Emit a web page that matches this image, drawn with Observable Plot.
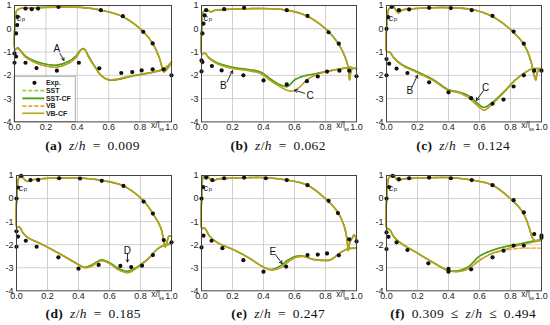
<!DOCTYPE html>
<html><head><meta charset="utf-8">
<script src="https://cdn.jsdelivr.net/npm/d3@7"></script>
<script src="https://cdn.jsdelivr.net/npm/@observablehq/plot@0.6"></script>
<style>
body{margin:0;background:#fff;}
#root{position:relative;width:550px;height:325px;overflow:hidden;font-family:"Liberation Sans",Arial,sans-serif;}
.panel{position:absolute;}
.cap{position:absolute;font-family:"Liberation Serif","DejaVu Serif",serif;font-size:13.5px;line-height:16px;letter-spacing:0.4px;word-spacing:3px;white-space:nowrap;transform:translateX(-50%);color:#111;}
</style></head><body><div id="root"></div>
<script>
// ---------- data ----------
const series = ["SST", "SST-CF", "VB", "VB-CF"];
const xTicks = [0, 0.2, 0.4, 0.6, 0.8, 1.0];
const yTicks = [1, 0, -1, -2, -3, -4];
const captions = [["(a)", "= 0.009"], ["(b)", "= 0.062"], ["(c)", "= 0.124"], ["(d)", "= 0.185"], ["(e)", "= 0.247"], ["(f)", "0.309 ≤ ", " ≤ 0.494"]];

// panel (a) z/h = 0.009
const aExpX = [0.01,0.017,0.02,0.07,0.11,0.15,0.28,0.55,0.69,0.82,0.88, 0.0,0.01,0.0,0.07,0.14,0.27,0.41,0.54,0.68,0.75,0.81,0.88,0.95,1.0];
const aExpCp = [-0.2,0.16,0.51,0.87,0.84,0.87,0.94,0.8,0.54,-0.13,-0.63, -1.06,-1.19,-1.46,-1.46,-1.69,-1.8,-1.46,-1.7,-1.9,-1.86,-1.79,-1.74,-1.74,-2.0];
const aUpper = [[0.004,-0.9],[0.005,0.4],[0.012,0.75],[0.03,0.86],[0.07,0.89],[0.15,0.91],[0.28,0.93],[0.42,0.92],[0.55,0.8],[0.69,0.52],[0.82,-0.12],[0.88,-0.63],[0.92,-1.2],[0.94,-1.65],[0.952,-1.85],[0.97,-1.75],[1.0,-1.45]];
const aLowerVB = [[0.004,-0.9],[0.02,-0.84],[0.04,-0.98],[0.07,-1.22],[0.12,-1.42],[0.2,-1.6],[0.27,-1.65],[0.34,-1.5],[0.39,-1.25],[0.42,-0.95],[0.435,-0.87],[0.45,-0.92],[0.47,-1.2],[0.52,-1.72],[0.56,-2.05],[0.6,-2.18],[0.64,-2.17],[0.76,-2.0],[0.89,-1.84],[0.95,-1.72],[1.0,-1.42]];
const aLowerSST = [[0.004,-0.9],[0.02,-0.82],[0.04,-0.95],[0.07,-1.17],[0.12,-1.36],[0.2,-1.52],[0.27,-1.56],[0.34,-1.42],[0.39,-1.18],[0.42,-0.92],[0.435,-0.85],[0.45,-0.9],[0.47,-1.15],[0.51,-1.6],[0.55,-2.0],[0.6,-2.2],[0.64,-2.2],[0.76,-2.02],[0.89,-1.86],[0.95,-1.74],[1.0,-1.45]];

// panel (b) z/h = 0.062
const bExpX = [0.006,0.013,0.02,0.03,0.146,0.275,0.55,0.684,0.82,0.886, 0.0,0.006,0.0,0.067,0.13,0.27,0.4,0.55,0.68,0.75,0.81,0.89,0.953,1.0];
const bExpCp = [-0.2,0.22,0.58,0.8,0.84,0.9,0.8,0.55,-0.15,-0.64, -1.36,-1.43,-1.83,-1.6,-1.79,-2.0,-2.22,-2.39,-2.25,-2.05,-1.84,-1.8,-1.8,-2.04];
const bUpper = [[0.003,-1.1],[0.004,0.3],[0.01,0.7],[0.03,0.82],[0.045,0.78],[0.06,0.73],[0.08,0.78],[0.1,0.81],[0.19,0.84],[0.4,0.87],[0.55,0.8],[0.68,0.55],[0.81,-0.06],[0.89,-0.71],[0.93,-1.28],[0.948,-1.7],[0.955,-2.2],[0.962,-1.9],[0.975,-1.7],[1.0,-1.72]];
const bLowerVB = [[0.003,-1.1],[0.02,-1.04],[0.05,-1.28],[0.1,-1.5],[0.19,-1.69],[0.3,-1.8],[0.38,-1.92],[0.45,-2.25],[0.51,-2.5],[0.55,-2.64],[0.59,-2.68],[0.63,-2.52],[0.68,-2.2],[0.73,-2.0],[0.81,-1.84],[0.9,-1.72],[0.96,-1.66],[1.0,-1.72]];
const bLowerSST = [[0.003,-1.1],[0.02,-1.04],[0.05,-1.25],[0.1,-1.46],[0.19,-1.64],[0.3,-1.75],[0.38,-1.86],[0.45,-2.18],[0.51,-2.42],[0.555,-2.48],[0.6,-2.2],[0.64,-2.07],[0.73,-1.94],[0.81,-1.83],[0.9,-1.72],[0.96,-1.66],[1.0,-1.72]];

// panel (c) z/h = 0.124
const cExpX = [0.0,0.01,0.034,0.08,0.146,0.275,0.415,0.55,0.684,0.82,0.886, 0.0,0.017,0.0,0.065,0.135,0.275,0.4,0.546,0.684,0.755,0.82,0.886,0.953,1.0];
const cExpCp = [0.0,0.5,0.94,0.8,0.83,0.9,0.89,0.8,0.55,-0.12,-0.64, -1.3,-1.5,-2.0,-1.71,-1.9,-2.3,-2.73,-2.98,-3.22,-3.04,-2.48,-2.0,-1.8,-1.8];
const cUpper = [[0.003,-1.0],[0.005,0.4],[0.015,0.85],[0.04,0.99],[0.06,0.8],[0.077,0.68],[0.1,0.8],[0.19,0.87],[0.4,0.91],[0.55,0.83],[0.68,0.54],[0.81,-0.09],[0.89,-0.71],[0.93,-1.35],[0.95,-1.93],[0.963,-2.2],[0.974,-1.86],[1.0,-1.7]];
const cLowerVB = [[0.003,-1.0],[0.02,-1.0],[0.05,-1.28],[0.1,-1.57],[0.19,-1.86],[0.3,-2.22],[0.4,-2.65],[0.47,-2.75],[0.53,-2.97],[0.6,-3.38],[0.63,-3.5],[0.68,-3.25],[0.77,-2.65],[0.83,-2.22],[0.9,-1.86],[0.94,-1.72],[1.0,-1.72]];
const cLowerSST = [[0.003,-1.0],[0.02,-1.0],[0.05,-1.26],[0.1,-1.54],[0.19,-1.82],[0.3,-2.18],[0.4,-2.62],[0.47,-2.72],[0.53,-2.88],[0.6,-3.28],[0.63,-3.38],[0.68,-3.18],[0.77,-2.62],[0.83,-2.2],[0.9,-1.85],[0.94,-1.72],[1.0,-1.72]];

// panel (d) z/h = 0.185
const dExpX = [0.0,0.01,0.03,0.09,0.14,0.275,0.41,0.55,0.69,0.82,0.88, 0.0,0.01,0.0,0.06,0.13,0.27,0.4,0.53,0.67,0.74,0.81,0.88,0.95,1.0];
const dExpCp = [0.0,0.48,0.98,0.8,0.81,0.88,0.87,0.77,0.55,-0.13,-0.65, -1.42,-1.65,-2.09,-1.83,-2.09,-2.55,-3.04,-2.88,-2.92,-2.97,-2.91,-2.45,-1.8,-1.9];
const dUpper = [[0.003,-1.25],[0.004,0.3],[0.012,0.85],[0.03,1.02],[0.05,0.84],[0.07,0.74],[0.1,0.81],[0.22,0.88],[0.42,0.88],[0.54,0.8],[0.69,0.55],[0.82,-0.1],[0.88,-0.65],[0.93,-1.25],[0.95,-1.83],[0.96,-2.1],[0.97,-1.9],[0.985,-1.62],[1.0,-1.65]];
const dLowerVB = [[0.003,-1.25],[0.017,-1.22],[0.04,-1.47],[0.07,-1.68],[0.16,-1.97],[0.275,-2.38],[0.39,-2.84],[0.44,-3.0],[0.48,-2.95],[0.52,-2.78],[0.55,-2.7],[0.6,-2.82],[0.65,-3.06],[0.69,-3.18],[0.72,-3.22],[0.78,-3.0],[0.85,-2.62],[0.91,-2.19],[0.95,-2.04],[1.0,-1.97]];
const dLowerSST = [[0.003,-1.25],[0.017,-1.22],[0.04,-1.47],[0.07,-1.68],[0.16,-1.97],[0.275,-2.38],[0.39,-2.82],[0.44,-2.98],[0.48,-2.9],[0.52,-2.74],[0.55,-2.66],[0.6,-2.78],[0.65,-3.0],[0.69,-3.12],[0.72,-3.15],[0.78,-2.96],[0.85,-2.6],[0.91,-2.18],[0.95,-2.04],[1.0,-1.97]];

// panel (e) z/h = 0.247
const eExpX = [0.0,0.01,0.03,0.07,0.146,0.275,0.415,0.55,0.684,0.82,0.88, 0.0,0.013,0.065,0.135,0.27,0.4,0.546,0.684,0.75,0.81,0.886,0.953,1.0];
const eExpCp = [0.0,0.5,0.91,0.8,0.88,0.91,0.88,0.8,0.58,-0.1,-0.63, -2.12,-1.61,-1.83,-2.15,-2.67,-3.17,-2.95,-2.45,-2.43,-2.38,-2.46,-1.77,-1.86];
const eUpper = [[0.003,-1.3],[0.004,0.3],[0.013,0.95],[0.04,0.96],[0.06,0.8],[0.08,0.77],[0.1,0.84],[0.19,0.88],[0.4,0.91],[0.555,0.8],[0.684,0.58],[0.81,-0.07],[0.88,-0.6],[0.92,-1.18],[0.94,-1.83],[0.946,-2.26],[0.957,-1.9],[0.975,-1.68],[0.985,-1.57],[1.0,-1.83]];
const eLowerVB = [[0.003,-1.3],[0.02,-1.28],[0.05,-1.61],[0.1,-1.9],[0.21,-2.23],[0.3,-2.55],[0.4,-2.98],[0.45,-3.1],[0.51,-3.01],[0.555,-2.77],[0.61,-2.55],[0.66,-2.52],[0.72,-2.65],[0.79,-2.69],[0.83,-2.67],[0.9,-2.33],[0.94,-2.19],[1.0,-2.15]];
const eLowerSST = [[0.003,-1.3],[0.02,-1.28],[0.05,-1.61],[0.1,-1.9],[0.21,-2.23],[0.3,-2.55],[0.4,-2.97],[0.45,-3.08],[0.51,-2.92],[0.555,-2.68],[0.61,-2.5],[0.66,-2.5],[0.72,-2.63],[0.79,-2.68],[0.83,-2.66],[0.9,-2.33],[0.94,-2.19],[1.0,-2.15]];

// panel (f) 0.309 <= z/h <= 0.494
const fExpX = [0.0,0.017,0.04,0.08,0.146,0.275,0.415,0.55,0.684,0.82,0.886, 0.0,0.013,0.0,0.065,0.135,0.27,0.4,0.4,0.546,0.684,0.755,0.82,0.886,0.953,1.0,1.0];
const fExpCp = [0.0,0.5,0.98,0.84,0.88,0.91,0.88,0.8,0.58,-0.07,-0.6, -2.19,-1.66,-1.47,-1.9,-2.23,-2.81,-3.17,-3.05,-3.07,-2.55,-2.26,-2.04,-2.04,-1.54,-1.61,-1.7];
const fUpper = [[0.003,-1.3],[0.004,0.3],[0.015,0.9],[0.04,1.02],[0.065,0.84],[0.08,0.77],[0.1,0.84],[0.19,0.88],[0.4,0.91],[0.555,0.8],[0.684,0.58],[0.81,-0.07],[0.88,-0.6],[0.92,-1.25],[0.94,-1.68],[0.96,-1.83],[1.0,-1.76]];
const fLowerVBCF = [[0.003,-1.3],[0.017,-1.32],[0.05,-1.68],[0.1,-1.97],[0.19,-2.33],[0.3,-2.77],[0.4,-3.13],[0.47,-3.17],[0.53,-3.05],[0.6,-2.69],[0.68,-2.38],[0.77,-2.19],[0.85,-2.04],[0.94,-1.9],[1.0,-1.83]];
const fLowerVB = [[0.003,-1.3],[0.017,-1.32],[0.05,-1.68],[0.1,-1.97],[0.19,-2.33],[0.3,-2.77],[0.4,-3.13],[0.47,-3.16],[0.53,-3.02],[0.6,-2.66],[0.68,-2.4],[0.77,-2.24],[0.85,-2.16],[0.94,-2.15],[1.0,-2.15]];
const fLowerSST = [[0.003,-1.3],[0.017,-1.32],[0.05,-1.68],[0.1,-1.97],[0.19,-2.33],[0.3,-2.77],[0.4,-3.12],[0.47,-3.12],[0.53,-2.95],[0.6,-2.5],[0.68,-2.25],[0.77,-2.08],[0.85,-1.98],[0.94,-1.85],[1.0,-1.78]];

// annotation labels
const aNotes = [["A", 0.27, -0.88, 0.29, -1.06, 0.315, -1.36]];
const bNotes = [["B", 0.14, -2.45, 0.165, -2.28, 0.2, -1.8], ["C", 0.7, -2.87, 0.665, -2.77, 0.6, -2.64]];
const cNotes = [["B", 0.15, -2.66, 0.165, -2.5, 0.2, -2.0], ["C", 0.64, -2.52, 0.625, -2.66, 0.58, -3.08]];
const dNotes = [["D", 0.716, -2.26, 0.716, -2.42, 0.716, -2.75]];
const eNotes = [["E", 0.46, -2.3, 0.48, -2.46, 0.52, -2.82]];

// ---------- styling ----------
const colors = {"SST": "#8fd44a", "SST-CF": "#4e9e1c", "VB": "#eba23a", "VB-CF": "#b3a21c"};
const dashes = {"SST": "4,2", "SST-CF": null, "VB": "4,2", "VB-CF": null};
const widths = {"SST": 1.4, "SST-CF": 1.6, "VB": 1.4, "VB-CF": 1.3};

const panels = [
  {expX: aExpX, expCp: aExpCp, upper: aUpper, lower: {"SST": aLowerSST, "SST-CF": aLowerSST, "VB": aLowerVB, "VB-CF": aLowerVB}, notes: aNotes, legend: true, l: 14, t: 5.3, w: 157, h: 116.4},
  {expX: bExpX, expCp: bExpCp, upper: bUpper, lower: {"SST": bLowerSST, "SST-CF": bLowerSST, "VB": bLowerVB, "VB-CF": bLowerVB}, notes: bNotes, l: 200.7, t: 5.3, w: 155, h: 116.4},
  {expX: cExpX, expCp: cExpCp, upper: cUpper, lower: {"SST": cLowerSST, "SST-CF": cLowerSST, "VB": cLowerVB, "VB-CF": cLowerVB}, notes: cNotes, l: 385.7, t: 5.3, w: 155, h: 116.4},
  {expX: dExpX, expCp: dExpCp, upper: dUpper, lower: {"SST": dLowerSST, "SST-CF": dLowerSST, "VB": dLowerVB, "VB-CF": dLowerVB}, notes: dNotes, l: 15.7, t: 174.7, w: 155, h: 115.3},
  {expX: eExpX, expCp: eExpCp, upper: eUpper, lower: {"SST": eLowerSST, "SST-CF": eLowerSST, "VB": eLowerVB, "VB-CF": eLowerVB}, notes: eNotes, l: 200.7, t: 174.7, w: 155, h: 115.3},
  {expX: fExpX, expCp: fExpCp, upper: fUpper, lower: {"SST": fLowerSST, "SST-CF": fLowerSST, "VB": fLowerVB, "VB-CF": fLowerVBCF}, notes: [], l: 385.7, t: 174.7, w: 155, h: 115.3}
];

const root = document.getElementById("root");
const ML = 14, MT = 6, MR = 10, MB = 16;
const font = "'Liberation Sans', Arial, sans-serif";

panels.forEach((p, i) => {
  const loops = series.map(s => {
    const lo = p.lower[s].slice().reverse();
    const pts = lo.concat(p.upper.slice(1));
    return pts.map(([x, cp]) => ({x, cp, s}));
  });
  const exp = p.expX.map((x, k) => ({x, cp: p.expCp[k]}));
  const marks = [
    Plot.gridX(xTicks.slice(1, -1), {stroke: "#c4c4c4", strokeOpacity: 1, strokeWidth: 0.8}),
    Plot.gridY(yTicks.slice(1, -1), {stroke: "#c4c4c4", strokeOpacity: 1, strokeWidth: 0.8}),
    Plot.axisX(xTicks, {tickSize: 0, tickPadding: 2, tickFormat: d => d.toFixed(1), fontSize: 9, label: null, fill: "#222"}),
    Plot.axisY(yTicks, {tickSize: 0, tickPadding: 3, tickFormat: d => String(d), fontSize: 9, label: null, fill: "#222"})
  ];
  if (p.legend) {
    marks.push(Plot.rect([0], {x1: 0, x2: 0.39, y1: -4, y2: -2.06, fill: "white", stroke: "#999", strokeWidth: 0.8}));
  }
  series.forEach((s, k) => {
    marks.push(Plot.line(loops[k], {x: "x", y: "cp", stroke: colors[s], strokeWidth: widths[s], strokeDasharray: dashes[s], curve: "catmull-rom"}));
  });
  marks.push(Plot.dot(exp, {x: "x", y: "cp", r: 2.1, fill: "#111", stroke: "none"}));
  // annotations
  p.notes.forEach(([lab, tx, ty, ax1, ay1, ax2, ay2]) => {
    marks.push(Plot.text([lab], {x: tx, y: ty, text: d => d, fontSize: 10, fill: "#111"}));
    marks.push(Plot.arrow([lab], {x1: ax1, y1: ay1, x2: ax2, y2: ay2, stroke: "#111", strokeWidth: 0.9, headLength: 5}));
  });
  if (p.legend) {
    const rows = [-2.66, -2.99, -3.32, -3.63];
    marks.push(Plot.dot([0], {x: 0.127, y: -2.32, r: 2.1, fill: "#111"}));
    marks.push(Plot.text(["Exp."], {x: 0.2, y: -2.32, text: d => d, textAnchor: "start", fontSize: 7, fontWeight: "bold", fill: "#222"}));
    series.forEach((s, k) => {
      marks.push(Plot.link([s], {x1: 0.05, x2: 0.19, y1: rows[k], y2: rows[k], stroke: colors[s], strokeWidth: widths[s] + 0.3, strokeDasharray: dashes[s]}));
      marks.push(Plot.text([s], {x: 0.2, y: rows[k], text: d => d, textAnchor: "start", fontSize: 7, fontWeight: "bold", fill: "#222"}));
    });
  }
  marks.push(Plot.frame({stroke: "#444", strokeWidth: 1}));
  // c_p label
  marks.push(Plot.text(["c"], {frameAnchor: "top-left", dx: 2, dy: 9, text: d => d, textAnchor: "start", fontSize: 9.5, fill: "#222"}));
  marks.push(Plot.text(["p"], {frameAnchor: "top-left", dx: 7.3, dy: 11.5, text: d => d, textAnchor: "start", fontSize: 6, fill: "#222"}));
  // x/l_ss label
  marks.push(Plot.text(["x/l"], {x: 0.87, frameAnchor: "bottom", dy: 6.5, text: d => d, textAnchor: "start", fontSize: 8.5, fill: "#222"}));
  marks.push(Plot.text(["ss"], {x: 0.92, frameAnchor: "bottom", dy: 9, text: d => d, textAnchor: "start", fontSize: 5, fill: "#222"}));

  const chart = Plot.plot({
    width: ML + p.w + MR, height: MT + p.h + MB,
    marginLeft: ML, marginTop: MT, marginRight: MR, marginBottom: MB,
    x: {domain: [0, 1]}, y: {domain: [-4, 1]},
    style: {fontFamily: font, fontSize: "9px", background: "transparent", overflow: "visible"},
    marks
  });
  chart.classList.add("panel");
  chart.style.left = (p.l - ML) + "px";
  chart.style.top = (p.t - MT) + "px";
  root.appendChild(chart);

  const cap = document.createElement("div");
  cap.className = "cap";
  const c = captions[i];
  const zh = "<i>z</i>/<i>h</i>";
  cap.innerHTML = c.length === 2 ? `<b>${c[0]}</b> ${zh} ${c[1]}` : `<b>${c[0]}</b> ${c[1]}${zh}${c[2]}`;
  cap.style.left = (p.l + p.w / 2) + "px";
  cap.style.top = (i < 3 ? 138 : 306) + "px";
  root.appendChild(cap);
});
</script>
</body></html>
